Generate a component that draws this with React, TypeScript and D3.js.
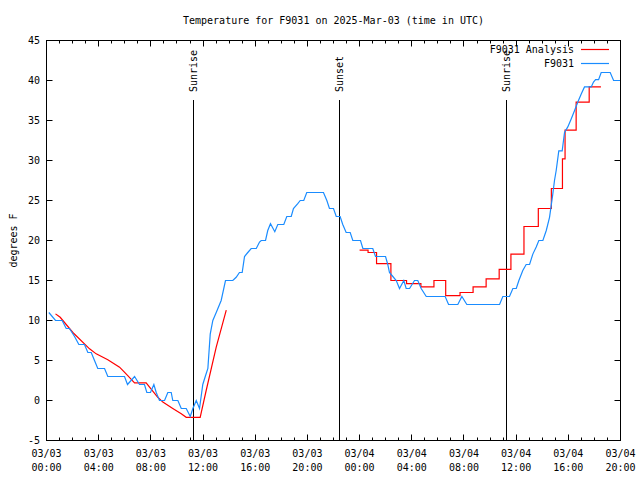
import React from "react";
import * as d3 from "d3";

const TITLE = "Temperature for F9031 on 2025-Mar-03 (time in UTC)";
const Y_LABEL = "degrees F";
const START_UTC = Date.UTC(2025, 2, 3, 0, 0, 0);
const END_UTC = Date.UTC(2025, 2, 4, 20, 0, 0);
const yTicks = [-5, 0, 5, 10, 15, 20, 25, 30, 35, 40, 45];

// Observations (hours since 03/03 00:00 UTC, °F)
const obsHours = [
  0.18, 0.69, 1.2, 1.51, 1.76, 2.15, 2.48, 2.91, 3.17, 3.43, 3.68, 3.93, 4.45, 4.7, 5.98,
  6.21, 6.75, 7.13, 7.51, 7.69, 7.97, 8.23, 8.41, 8.66, 9.05, 9.3, 9.56, 9.68, 10.07, 10.33,
  10.71, 11.02, 11.22, 11.48, 11.73, 11.98, 12.17, 12.37, 12.55, 12.75, 13.01, 13.39, 13.72,
  14.28, 14.54, 14.79, 15.0, 15.1, 15.18, 15.43, 15.69, 16.08, 16.33, 16.46, 16.79, 16.96,
  17.17, 17.5, 17.73, 18.19, 18.42, 18.76, 18.93, 19.26, 19.45, 19.72, 19.95, 21.23, 21.49,
  21.69, 22.0, 22.21, 22.51, 22.71, 22.97, 23.28, 23.48, 24.07, 24.25, 25.01, 25.22, 25.99,
  26.16, 26.29, 26.55, 26.81, 27.06, 27.39, 27.57, 27.83, 28.21, 28.46, 28.72, 29.11, 30.56,
  30.82, 31.53, 31.84, 32.22, 34.73, 34.98, 35.49, 35.75, 36.01, 36.21, 36.51, 36.77, 37.03,
  37.28, 37.54, 37.74, 38.05, 38.31, 38.56, 38.81, 38.94, 39.07, 39.27, 39.53, 39.63, 39.71,
  39.96, 40.22, 40.48, 40.73, 40.99, 41.24, 41.76, 41.93, 42.09, 42.32, 42.52, 43.21, 43.47,
  43.96,
];
const obsTemps = [
  11, 10, 10, 9, 9, 8, 7, 7, 6, 6, 5, 4, 4, 3, 3,
  2, 3, 2, 2, 1, 1, 2, 1, 0, 0, 1, 1, 0, 0, -1,
  -1, -2, -1, 0, -1, 2, 3, 4, 8.3, 10, 11, 12.5, 15,
  15, 15.4, 16, 16, 17.1, 18, 18.5, 19, 19, 19.8, 20, 20, 21.25,
  22.1, 21.1, 22, 22, 23, 23, 24, 24.6, 25, 25, 26, 26, 25,
  24, 24, 23, 23, 22, 21, 21, 20, 20, 19, 19, 18, 18,
  17, 16, 15.5, 15, 14, 15, 14, 14, 15, 15, 14, 13, 13,
  12, 12, 13, 12, 12, 13, 13, 14, 14, 15, 16.25, 17, 17,
  18.3, 19.2, 20, 20, 21.25, 22.9, 25.8, 27.5, 28.75, 31.2, 31.2, 32.5, 33.5,
  34.2, 35.2, 36.25, 37.3, 38.3, 39.2, 39.2, 39.8, 40.1, 40.1, 41, 41, 40,
  40,
];

// Analysis, first segment (continuous)
const anaHours1 = [
  0.69, 1.05, 2.02, 3.3, 3.81, 4.7, 5.6, 6.23, 6.75, 7.64, 7.9, 8.53, 8.92, 9.68, 10.33,
  10.71, 11.78, 12.24, 13.01, 13.78,
];
const anaTemps1 = [
  10.83, 10.4, 8.5, 6.46, 5.83, 5.1, 4.17, 3.1, 2.2, 2.2, 1.67, 0.4, -0.2, -1.0, -1.67,
  -2.1, -2.1, 1.25, 6.67, 11.3,
];

// Analysis, second segment (stepped): step start hour and value
const anaStepHours = [
  24.0, 24.65, 25.3, 26.4, 27.6, 28.7, 29.7, 30.6, 31.7, 32.7, 33.7, 34.7, 35.6, 36.6,
  37.7, 38.7, 39.55, 39.75, 40.6, 41.6,
];
const anaStepTemps = [
  18.8, 18.5, 17.1, 15.0, 14.6, 14.2, 15.0, 13.1, 13.5, 14.2, 15.2, 16.4, 18.3, 21.75,
  24.0, 26.5, 30.2, 33.8, 37.3, 39.2,
];
const anaStepEnd = 42.5;

const sunHours = [11.25, 22.46, 35.26];
const sunLabels = ["Sunrise", "Sunset", "Sunrise"];

const legendNames = ["F9031 Analysis", "F9031"];
const RED = "#ff0000";
const BLUE = "#1a8cff";
const FONT = "'DejaVu Sans Mono', monospace";

const toDate = (h: number) => new Date(START_UTC + h * 3600 * 1000);

export default function App() {
  const W = 640, H = 480;
  const left = 46.5, right = 620.5, top = 40.5, bottom = 440.5;
  const x = d3.scaleUtc().domain([new Date(START_UTC), new Date(END_UTC)]).range([left, right]);
  const y = d3.scaleLinear().domain([-5, 45]).range([bottom, top]);
  const px = (v: number) => Math.round(v - 0.5) + 0.5;

  const majorTicks = x.ticks(d3.utcHour.every(4)!);
  const minorTicks = x.ticks(d3.utcHour.every(1)!).filter((d) => d.getUTCHours() % 4 !== 0);
  const fmtDate = d3.utcFormat("%m/%d");
  const fmtTime = d3.utcFormat("%H:%M");

  const line = d3
    .line<[number, number]>()
    .x((d) => x(toDate(d[0])))
    .y((d) => y(d[1]));
  const stepLine = d3
    .line<[number, number]>()
    .x((d) => x(toDate(d[0])))
    .y((d) => y(d[1]))
    .curve(d3.curveStepAfter);

  const obsPts: [number, number][] = obsHours.map((h, i) => [h, obsTemps[i]]);
  const ana1Pts: [number, number][] = anaHours1.map((h, i) => [h, anaTemps1[i]]);
  const ana2Pts: [number, number][] = anaStepHours.map((h, i) => [h, anaStepTemps[i]]);
  ana2Pts.push([anaStepEnd, anaStepTemps[anaStepTemps.length - 1]]);

  return (
    <svg width={W} height={H} style={{ position: "absolute", left: 0, top: 0, background: "#fff" }} fontFamily={FONT} fontSize={10}>
      <rect x={0} y={0} width={W} height={H} fill="#fff" />
      <text x={(left + right) / 2} y={24} textAnchor="middle">{TITLE}</text>
      <text transform={`translate(13,${(top + bottom) / 2}) rotate(-90)`} textAnchor="middle" dy="0.35em">{Y_LABEL}</text>

      {/* y ticks */}
      {yTicks.map((t) => (
        <g key={t}>
          <line x1={left} x2={left + 6} y1={px(y(t))} y2={px(y(t))} stroke="#000" />
          <line x1={right} x2={right - 6} y1={px(y(t))} y2={px(y(t))} stroke="#000" />
          <text x={40} y={y(t)} dy="0.35em" textAnchor="end">{t}</text>
        </g>
      ))}

      {/* x ticks */}
      {majorTicks.map((d, i) => (
        <g key={"M" + i}>
          <line x1={px(x(d))} x2={px(x(d))} y1={bottom} y2={bottom - 6} stroke="#000" />
          <line x1={px(x(d))} x2={px(x(d))} y1={top} y2={top + 6} stroke="#000" />
          <text x={x(d)} y={457} textAnchor="middle">{fmtDate(d)}</text>
          <text x={x(d)} y={471} textAnchor="middle">{fmtTime(d)}</text>
        </g>
      ))}
      {minorTicks.map((d, i) => (
        <g key={"m" + i}>
          <line x1={px(x(d))} x2={px(x(d))} y1={bottom} y2={bottom - 3} stroke="#000" />
          <line x1={px(x(d))} x2={px(x(d))} y1={top} y2={top + 3} stroke="#000" />
        </g>
      ))}

      {/* sunrise/sunset */}
      {sunHours.map((h, i) => {
        const sx = px(x(toDate(h)));
        return (
          <g key={"s" + i}>
            <line x1={sx} x2={sx} y1={100} y2={bottom} stroke="#000" />
            <text transform={`translate(${sx},92) rotate(-90)`} textAnchor="start" dy="0.35em">{sunLabels[i]}</text>
          </g>
        );
      })}

      <path d={line(ana1Pts) || ""} fill="none" stroke={RED} strokeWidth={1.2} />
      <path d={stepLine(ana2Pts) || ""} fill="none" stroke={RED} strokeWidth={1.2} />
      <path d={line(obsPts) || ""} fill="none" stroke={BLUE} strokeWidth={1.2} />

      <rect x={left} y={top} width={right - left} height={bottom - top} fill="none" stroke="#000" />

      {/* legend */}
      {legendNames.map((n, i) => (
        <g key={n}>
          <text x={574} y={49 + i * 14} dy="0.35em" textAnchor="end">{n}</text>
          <line x1={581} x2={609} y1={49.5 + i * 14} y2={49.5 + i * 14} stroke={i === 0 ? RED : BLUE} strokeWidth={1.2} />
        </g>
      ))}
    </svg>
  );
}
